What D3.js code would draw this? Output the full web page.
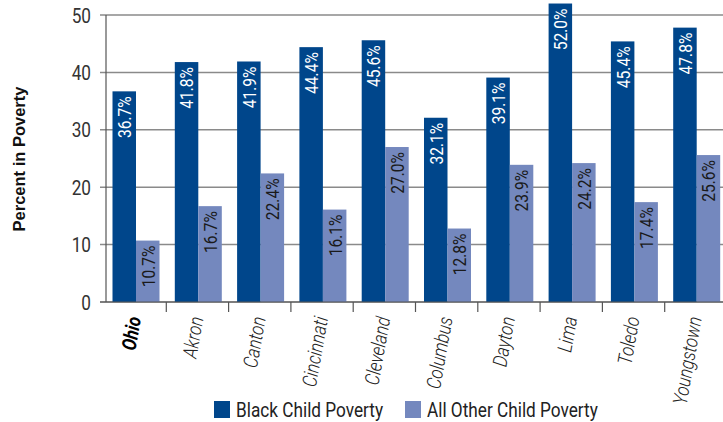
<!DOCTYPE html>
<html>
<head>
<meta charset="utf-8">
<script src="https://d3js.org/d3.v7.min.js"></script>
<style>
  body { margin: 0; background: #fff; }
  text { font-family: Roboto, "Liberation Sans", sans-serif; }
</style>
</head>
<body>
<script type="text/javascript">

// data
var cities = ["Ohio", "Akron", "Canton", "Cincinnati", "Cleveland", "Columbus", "Dayton", "Lima", "Toledo", "Youngstown"];
var blackPoverty = [36.7, 41.8, 41.9, 44.4, 45.6, 32.1, 39.1, 52.0, 45.4, 47.8];
var otherPoverty = [10.7, 16.7, 22.4, 16.1, 27.0, 12.8, 23.9, 24.2, 17.4, 25.6];
var seriesNames = ["Black Child Poverty", "All Other Child Poverty"];
var yTicks = [0, 10, 20, 30, 40, 50];

var w = 723, h = 422;
var colours = ["#00468b", "#7488be"];
var labelColours = ["#fff", "#1a1a1a"];
var narrow = 0.82; // fake a condensed face

var svg = d3.select("body").append("svg")
  .attr("width", w)
  .attr("height", h);

var x = d3.scaleBand()
  .domain(cities)
  .range([104, 727]);

var sub = d3.scaleBand()
  .domain([0, 1])
  .range([8.5, 55.5]);

var y = d3.scaleLinear()
  .domain([0, 50])
  .range([302, 15]);

// gridlines
svg.append("g")
  .selectAll("line")
  .data(yTicks)
  .join("line")
  .attr("x1", 100).attr("x2", w)
  .attr("y1", d => y(d)).attr("y2", d => y(d))
  .attr("stroke", "#8a8a8a")
  .attr("stroke-width", 1.5);

// y axis line
svg.append("line")
  .attr("x1", 106).attr("x2", 106)
  .attr("y1", y(50)).attr("y2", y(0))
  .attr("stroke", "#555").attr("stroke-width", 1.2);

// y tick labels
svg.append("g")
  .selectAll("text")
  .data(yTicks)
  .join("text")
  .attr("transform", d => "translate(91," + y(d) + ") scale(" + narrow + ",1)")
  .attr("dy", "0.36em")
  .attr("text-anchor", "end")
  .attr("font-size", 21)
  .attr("fill", "#333")
  .text(d => d);

// y title
svg.append("text")
  .attr("transform", "translate(25,159) rotate(-90)")
  .attr("text-anchor", "middle")
  .attr("font-size", 16.5)
  .attr("font-weight", "bold")
  .style("font-family", "'Liberation Sans', Arial, sans-serif")
  .attr("fill", "#111")
  .text("Percent in Poverty");

// bars
var groups = svg.append("g")
  .selectAll("g")
  .data(cities)
  .join("g")
  .attr("transform", d => "translate(" + x(d) + ",0)");

var rows = cities.map((c, i) => [blackPoverty[i], otherPoverty[i]]);

groups.each(function(c, i) {
  var g = d3.select(this);
  rows[i].forEach(function(v, s) {
    g.append("rect")
      .attr("x", sub(s))
      .attr("y", y(v))
      .attr("width", sub.bandwidth())
      .attr("height", y(0) - y(v))
      .attr("fill", colours[s]);
    g.append("text")
      .attr("transform", "translate(" + (sub(s) + sub.bandwidth() / 2) + "," + (y(v) + 5) + ") rotate(-90) scale(" + narrow + ",1)")
      .attr("text-anchor", "end")
      .attr("dy", "0.36em")
      .attr("font-size", 19)
      .attr("fill", labelColours[s])
      .text(v.toFixed(1) + "%");
  });
});

// x axis line and ticks
svg.append("line")
  .attr("x1", 100).attr("x2", w)
  .attr("y1", y(0)).attr("y2", y(0))
  .attr("stroke", "#555").attr("stroke-width", 1.2);

svg.append("g")
  .selectAll("line")
  .data(cities.slice(1))
  .join("line")
  .attr("x1", d => x(d)).attr("x2", d => x(d))
  .attr("y1", y(0)).attr("y2", y(0) + 10)
  .attr("stroke", "#555").attr("stroke-width", 1.2);

// x labels
svg.append("g")
  .selectAll("text")
  .data(cities)
  .join("text")
  .attr("transform", d => "translate(" + (x(d) + x.bandwidth() / 2 + 6) + ",318) rotate(-80) scale(0.84,1)")
  .attr("text-anchor", "end")
  .attr("font-size", 20)
  .attr("font-style", "italic")
  .attr("font-weight", (d, i) => i === 0 ? "bold" : "300")
  .attr("fill", (d, i) => i === 0 ? "#000" : "#222")
  .text(d => d);

// legend
var legendX = [214, 405];
var legend = svg.append("g")
  .selectAll("g")
  .data(seriesNames)
  .join("g")
  .attr("transform", (d, i) => "translate(" + legendX[i] + ",401)");

legend.append("rect")
  .attr("width", 16).attr("height", 17)
  .attr("fill", (d, i) => colours[i]);

legend.append("text")
  .attr("transform", "translate(22,15.5) scale(0.84,1)")
  .attr("font-size", 20.5)
  .attr("fill", "#222")
  .text(d => d);

</script>
</body>
</html>
